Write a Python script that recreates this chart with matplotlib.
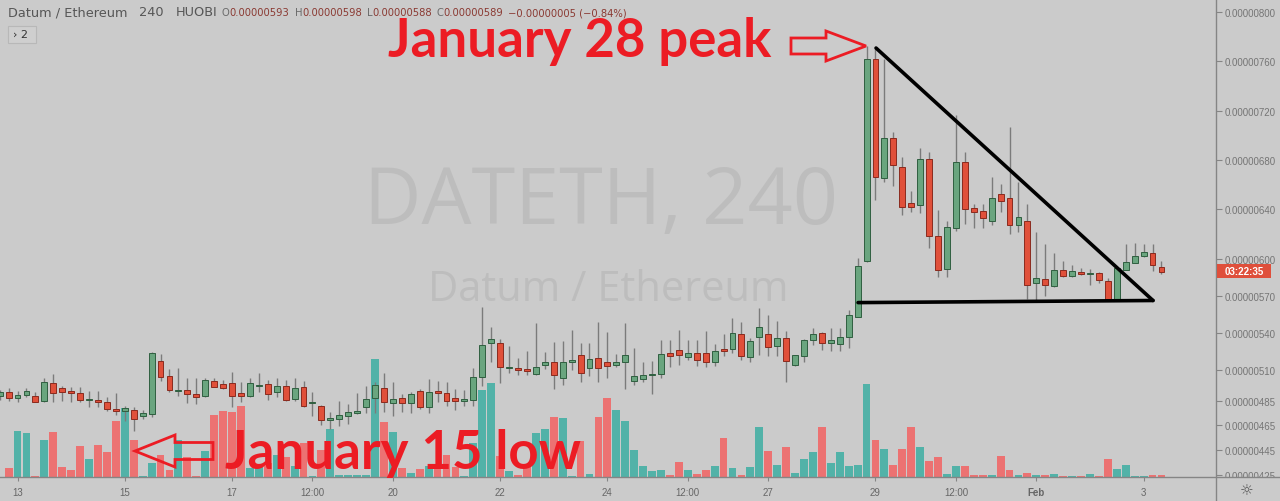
import matplotlib
matplotlib.use("Agg")
import matplotlib.pyplot as plt
import numpy as np
from matplotlib.patches import Polygon, Rectangle
from matplotlib.lines import Line2D
from matplotlib.transforms import Bbox, TransformedBbox

# ---------------- data ----------------
# 4h candles, index 0 = 13 Jan 00:00 ; prices in units of 1e-8 ETH
first_index = -2
opens = [488.6, 492.3, 486.9, 489.6, 488.6, 484.8, 499.1, 495.3, 492.6, 491.0,
         485.6, 485.3, 483.7, 478.1, 476.7, 477.7, 472.4, 474.5, 516.9, 505.3,
         493.2, 494.0, 490.5, 488.6, 501.0, 498.3, 499.1, 491.0, 488.6, 496.7,
         498.3, 491.8, 496.7, 486.4, 495.9, 483.2, 481.0, 469.4, 470.2, 472.9,
         475.3, 480.2, 487.0, 495.3, 483.2, 487.5, 482.9, 492.6, 479.7, 492.6,
         491.0, 487.5, 485.0, 485.8, 504.0, 531.5, 531.7, 511.5, 511.2, 510.7,
         506.6, 513.9, 516.6, 503.2, 516.6, 522.3, 511.2, 519.3, 516.6, 513.9,
         516.1, 501.2, 502.6, 505.8, 506.4, 523.6, 525.8, 520.2, 523.6, 523.6,
         516.1, 526.6, 526.9, 539.0, 520.4, 536.4, 539.0, 529.3, 536.1, 513.9,
         521.0, 533.9, 539.8, 532.0, 531.2, 536.4, 552.5, 597.9, 761.7, 665.1,
         697.7, 674.3, 644.9, 643.5, 680.7, 618.2, 591.7, 625.1, 678.5, 640.8,
         638.4, 630.3, 652.4, 649.4, 627.3, 630.3, 580.1, 583.6, 578.1, 591.1,
         585.8, 589.2, 587.6, 588.2, 581.7, 566.0, 591.1, 596.5, 602.0, 604.4,
         593.0]
highs = [494.0, 495.1, 493.1, 495.3, 491.8, 503.2, 506.6, 497.2, 495.9, 495.9,
         492.6, 492.6, 487.8, 491.0, 481.0, 479.7, 477.7, 524.7, 522.6, 510.7,
         511.2, 503.2, 503.2, 503.2, 503.2, 502.1, 508.5, 500.4, 503.2, 507.4,
         502.1, 503.2, 502.1, 503.2, 501.0, 491.8, 481.5, 476.1, 485.0, 482.4,
         491.3, 496.7, 500.4, 507.2, 499.9, 490.5, 491.8, 494.5, 502.6, 501.2,
         499.9, 494.5, 493.9, 511.2, 560.6, 544.5, 535.0, 529.1, 519.3, 525.5,
         548.0, 524.7, 532.8, 533.6, 542.5, 531.7, 531.7, 549.0, 540.4, 522.8,
         548.0, 527.4, 516.1, 517.2, 534.4, 534.2, 542.5, 534.4, 534.4, 541.7,
         530.9, 539.0, 551.7, 549.0, 535.6, 559.8, 554.4, 549.8, 541.7, 522.0,
         535.0, 544.2, 540.9, 544.2, 544.2, 558.7, 600.3, 772.0, 769.8, 761.7,
         702.3, 682.6, 654.8, 689.9, 686.6, 639.7, 630.8, 716.6, 686.6, 644.3,
         644.0, 665.9, 660.5, 706.4, 661.9, 644.3, 621.4, 611.9, 604.4, 598.4,
         595.2, 592.2, 591.7, 589.5, 584.1, 593.0, 611.9, 612.7, 611.9, 611.9,
         598.0]
lows = [486.0, 485.1, 484.2, 487.8, 483.7, 484.2, 484.2, 485.0, 483.7, 483.7,
        479.7, 479.7, 477.0, 473.4, 468.8, 460.7, 470.2, 471.6, 501.2, 491.8,
        488.6, 483.2, 482.4, 487.8, 495.9, 494.5, 479.7, 484.2, 487.8, 491.8,
        485.8, 487.8, 485.0, 485.0, 479.7, 472.9, 465.3, 462.1, 464.3, 466.2,
        474.3, 475.1, 475.1, 476.1, 472.9, 476.1, 474.8, 478.3, 475.1, 483.7,
        481.0, 477.5, 481.0, 481.0, 496.7, 516.6, 499.4, 507.4, 505.8, 505.8,
        505.8, 510.7, 494.5, 497.7, 510.1, 499.9, 505.3, 500.4, 503.2, 512.1,
        494.5, 497.7, 499.9, 490.5, 503.2, 512.5, 514.2, 518.2, 513.4, 512.5,
        513.4, 521.0, 523.6, 518.0, 516.6, 522.0, 521.0, 521.5, 500.4, 513.4,
        516.6, 530.4, 525.8, 525.0, 525.0, 527.4, 552.5, 597.1, 647.5, 661.9,
        658.6, 635.6, 637.6, 637.0, 608.9, 585.4, 584.9, 622.7, 627.8, 624.9,
        624.9, 627.3, 637.6, 620.0, 621.4, 567.4, 565.2, 570.0, 577.3, 584.9,
        584.9, 587.0, 579.0, 580.1, 566.0, 566.0, 591.1, 596.5, 601.1, 589.8,
        588.0]
closes = [491.8, 486.9, 490.0, 492.6, 484.0, 499.9, 491.5, 492.1, 491.5, 485.6,
          486.6, 484.0, 478.3, 477.0, 479.1, 470.2, 475.1, 523.6, 504.5, 494.0,
          494.0, 490.5, 487.8, 501.8, 496.4, 495.6, 489.1, 488.6, 499.1, 497.8,
          490.5, 497.2, 485.8, 495.3, 480.7, 484.2, 469.4, 470.8, 473.4, 476.1,
          476.4, 486.4, 497.8, 484.2, 486.4, 482.9, 490.5, 479.7, 492.3, 491.3,
          484.8, 485.0, 486.2, 504.0, 530.4, 534.7, 512.5, 512.5, 509.9, 509.3,
          512.1, 516.6, 506.1, 516.6, 518.2, 507.4, 518.8, 511.7, 513.1, 516.6,
          522.3, 504.8, 505.8, 506.9, 522.8, 521.0, 522.3, 523.6, 517.7, 516.1,
          525.5, 525.3, 539.8, 521.0, 533.1, 544.8, 528.3, 535.6, 517.4, 522.0,
          533.9, 539.0, 532.0, 534.4, 536.9, 554.4, 594.4, 761.7, 665.9, 697.7,
          675.9, 642.1, 641.6, 680.7, 618.7, 591.1, 625.4, 678.5, 640.2, 638.1,
          633.2, 649.4, 647.0, 627.3, 633.5, 579.0, 584.4, 578.7, 591.1, 585.8,
          590.3, 587.6, 588.7, 582.8, 566.0, 592.5, 597.1, 602.4, 605.2, 595.2,
          589.0]
volumes = [0.0, 8.7, 46.0, 44.0, 1.4, 37.0, 44.7, 10.0, 7.4, 30.7,
           18.0, 31.7, 25.4, 56.0, 68.7, 37.0, 1.4, 13.7, 22.0, 7.0,
           37.0, 20.0, 1.0, 26.0, 62.0, 66.0, 65.0, 71.0, 9.0, 10.0,
           14.0, 22.0, 20.0, 11.0, 34.0, 1.0, 27.0, 48.0, 1.5, 1.5,
           1.5, 1.5, 118.0, 55.0, 45.0, 9.0, 4.0, 8.0, 10.7, 9.0,
           22.0, 10.0, 1.0, 34.0, 87.0, 94.0, 20.7, 5.7, 2.3, 10.7,
           44.0, 48.0, 59.7, 59.0, 1.0, 35.7, 3.3, 59.7, 79.0, 67.0,
           55.7, 27.0, 10.7, 6.3, 7.3, 1.7, 15.0, 7.3, 3.3, 7.3,
           10.7, 39.0, 8.7, 1.7, 9.7, 50.0, 25.7, 12.3, 30.0, 4.0,
           17.7, 24.7, 49.7, 14.0, 24.7, 10.7, 12.3, 93.0, 37.3, 28.3,
           12.3, 28.3, 50.0, 30.0, 15.7, 20.0, 3.3, 11.3, 11.3, 2.3,
           1.7, 2.3, 21.3, 6.7, 1.7, 4.0, 1.7, 1.7, 3.3, 1.0,
           1.0, 1.0, 3.3, 1.0, 17.7, 8.0, 11.7, 1.0, 1.0, 1.7,
           2.3]

price_ticks = [425, 445, 465, 485, 510, 540, 570, 600, 640, 680, 720, 760, 800]
time_tick_index = [0, 12, 24, 33, 42, 54, 66, 75, 84, 96, 105, 114, 126]
time_tick_labels = ["13", "15", "17", "12:00", "20", "22", "24", "12:00",
                    "27", "29", "12:00", "Feb", "3"]

header_symbol = ["Datum / Ethereum", "240", "HUOBI"]
header_ohlc = [("O", "0.00000593"), ("H", "0.00000598"), ("L", "0.00000588"),
               ("C", "0.00000589"), ("", "\u22120.00000005 (\u22120.84%)")]
countdown = "03:22:35"

# triangle drawn on the chart (candle index, price)
tri_top = (96.06, 770.6)
tri_apex = (127.05, 566.2)
tri_base_left = (94.05, 564.5)

# ---------------- style ----------------
W, H = 1280, 502
BG = "#cbcbcb"
UP_BODY, UP_EDGE = "#6aa57f", "#2f5f40"
DN_BODY, DN_EDGE = "#e0503a", "#8a2a1e"
WICK = "#7b7b7b"
VOL_UP, VOL_DN = "#52b2a8", "#ec7272"
AXIS = "#858585"
LABEL = "#757575"
RED = "#ec1c24"

plot_right_px = 1216
plot_bottom_px = 478

fig = plt.figure(figsize=(W / 100, H / 100), dpi=100)
fig.patch.set_facecolor(BG)
rect = [0, 1 - plot_bottom_px / H, plot_right_px / W, plot_bottom_px / H]
ax_vol = fig.add_axes(rect)
ax = fig.add_axes(rect, sharex=ax_vol)
ax_vol.set_facecolor(BG)
ax.set_facecolor("none")

o = np.array(opens); h = np.array(highs); l = np.array(lows); c = np.array(closes)
v = np.array(volumes)
x = np.arange(first_index, first_index + len(o))
up = c >= o

# volume
ax_vol.bar(x, v, width=0.88, color=np.where(up, VOL_UP, VOL_DN), zorder=2, linewidth=0)
ax_vol.set_ylim(0, v.max() / 0.247)
ax_vol.axis("off")
ax_vol.text(0.494, 0.575, "DATETH, 240", transform=ax_vol.transAxes, ha="center",
            va="center", fontsize=57, family="Open Sans", color="#bdbdbd", zorder=0.5)
ax_vol.text(0.5, 0.393, "Datum / Ethereum", transform=ax_vol.transAxes, ha="center",
            va="center", fontsize=30, family="Open Sans", color="#bdbdbd", zorder=0.5)

# candles
ax.vlines(x, l, h, color=WICK, linewidth=1, zorder=2)
body_bottom = np.minimum(o, c)
body_h = np.maximum(np.abs(c - o), 0.9)
ax.bar(x, body_h, bottom=body_bottom, width=0.66,
       color=np.where(up, UP_BODY, DN_BODY),
       edgecolor=np.where(up, UP_EDGE, DN_EDGE), linewidth=0.7, zorder=3)

ax.set_xlim(-1.96, 134.1)
ax.set_ylim(423.3, 810.3)

# axes cosmetics
for s in ax.spines.values():
    s.set_visible(False)
ax.yaxis.tick_right()
ax.set_yticks(price_ticks, [f"0.{int(p):08d}" for p in price_ticks])
ax.tick_params(axis="y", direction="out", length=4, width=0.8, color=AXIS,
               labelcolor=LABEL, labelsize=7, pad=2)
for lab in ax.get_yticklabels():
    lab.set_family("Liberation Sans")
    lab.set_clip_on(True)
    lab.set_clip_box(TransformedBbox(Bbox([[0, 0], [1.1, 1.05]]), ax.transAxes))
ax.set_xticks(time_tick_index, time_tick_labels)
ax.tick_params(axis="x", direction="out", length=3, width=0.8, color=AXIS,
               labelcolor="#666666", labelsize=7, pad=4)
for lab in ax.get_xticklabels():
    lab.set_family("Liberation Sans")
    if lab.get_text() == "Feb":
        lab.set_fontweight("bold")

# axis frame lines
fig.add_artist(Line2D([plot_right_px / W] * 2, [0, 1], transform=fig.transFigure,
                      color=AXIS, linewidth=1))
fig.add_artist(Line2D([0, 1], [1 - plot_bottom_px / H] * 2, transform=fig.transFigure,
                      color=AXIS, linewidth=1))

# triangle
ax.plot([tri_top[0], tri_apex[0]], [tri_top[1], tri_apex[1]], color="black",
        linewidth=2.6, zorder=6, clip_on=False, solid_capstyle="round")
ax.plot([tri_base_left[0], tri_apex[0]], [tri_base_left[1], tri_apex[1]], color="black",
        linewidth=2.6, zorder=6, clip_on=False, solid_capstyle="round")


def fp(xp, yp):
    return (xp / W, 1 - yp / H)


# countdown label
fig.add_artist(Rectangle(fp(1217, 279), 54 / W, 14 / H, transform=fig.transFigure,
                         facecolor="#df4f3b", edgecolor="none", zorder=5))
fig.text(*fp(1244, 272), countdown, ha="center", va="center", fontsize=7,
         color="white", family="Liberation Sans", weight="bold", zorder=6)

# gear
fig.text(*fp(1247, 491), "\u263c", ha="center", va="center", fontsize=11,
         color="#555555", family="DejaVu Sans")

# header
renderer = fig.canvas.get_renderer()
xc = 8
for i, part in enumerate(header_symbol):
    t = fig.text(*fp(xc, 13), part, ha="left", va="center", fontsize=9.3,
                 family="DejaVu Sans", color="#565656")
    xc += t.get_window_extent(renderer).width + 12
xc = 222
for letter, val in header_ohlc:
    if letter:
        t = fig.text(*fp(xc, 13.5), letter, ha="left", va="center", fontsize=7.2,
                     family="DejaVu Sans", color="#6a6a6a")
        xc += t.get_window_extent(renderer).width
    t = fig.text(*fp(xc, 13.5), val, ha="left", va="center", fontsize=7.2,
                 family="DejaVu Sans", color="#8b3a33")
    xc += t.get_window_extent(renderer).width + 5

fig.add_artist(Rectangle(fp(8, 44), 28 / W, 17 / H, transform=fig.transFigure,
                         facecolor="#cfcfcf", edgecolor="#b8b8b8", linewidth=0.8))
fig.text(*fp(13, 35), "\u203a 2", ha="left", va="center", fontsize=8,
         family="DejaVu Sans", color="#333333")


# hollow arrows
def hollow_arrow(tail_x, tip_x, yc, tail_half, head_half, head_len):
    d = 1 if tip_x > tail_x else -1
    base_x = tip_x - d * head_len
    pts = [(tail_x, yc - tail_half), (base_x, yc - tail_half), (base_x, yc - head_half),
           (tip_x, yc), (base_x, yc + head_half), (base_x, yc + tail_half),
           (tail_x, yc + tail_half)]
    poly = Polygon([fp(px, py) for px, py in pts], closed=True, transform=fig.transFigure,
                   facecolor="none", edgecolor=RED, linewidth=2.0, zorder=7,
                   joinstyle="miter")
    fig.add_artist(poly)


hollow_arrow(791, 866, 47, 8, 15, 40)
hollow_arrow(213, 135, 452, 8.5, 16, 40)

fig.text(*fp(388, 57), "January 28 peak", ha="left", va="baseline", fontsize=38,
         family="Lato", weight="bold", color=RED, zorder=8)
fig.text(*fp(225, 469), "January 15 low", ha="left", va="baseline", fontsize=38,
         family="Lato", weight="bold", color=RED, zorder=8)

fig.savefig("out.png", dpi=100, facecolor=BG)
